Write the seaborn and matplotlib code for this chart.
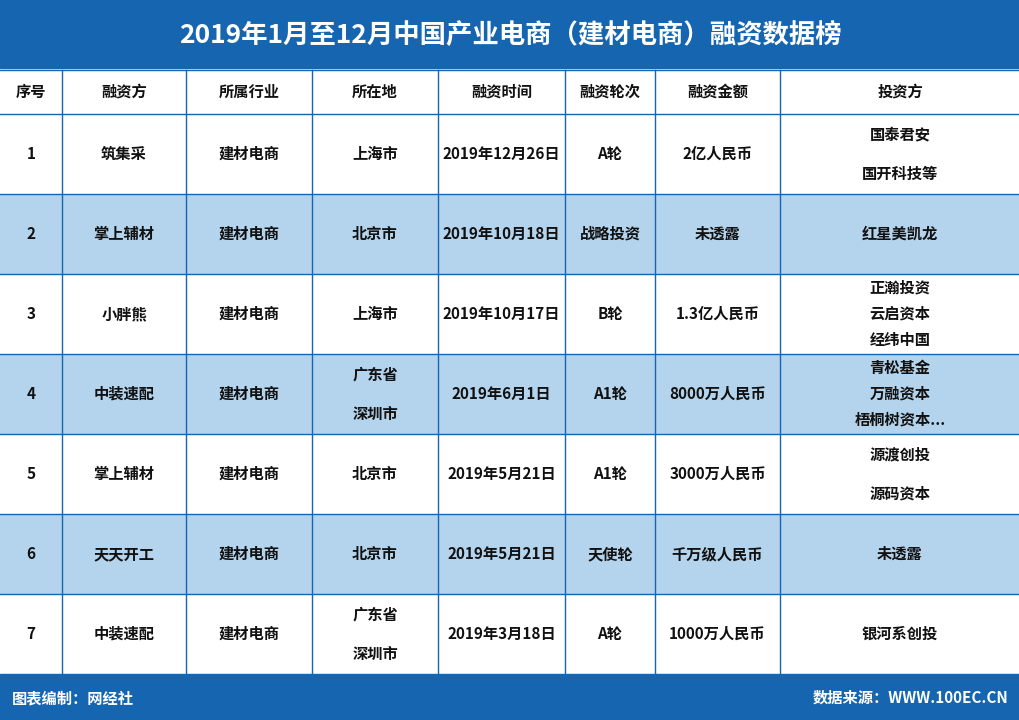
import matplotlib
matplotlib.use("Agg")
import matplotlib.pyplot as plt
import numpy as np
import seaborn as sns

plt.rcParams["font.family"] = "Noto Sans CJK SC"

TITLE = "2019年1月至12月中国产业电商（建材电商）融资数据榜"
FOOT_LEFT = "图表编制：网经社"
FOOT_RIGHT = "数据来源：WWW.100EC.CN"

headers = ["序号", "融资方", "所属行业", "所在地", "融资时间", "融资轮次", "融资金额", "投资方"]
seq = ["1", "2", "3", "4", "5", "6", "7"]
company = ["筑集采", "掌上辅材", "小胖熊", "中装速配", "掌上辅材", "天天开工", "中装速配"]
industry = ["建材电商"] * 7
location = ["上海市", "北京市", "上海市", "广东省\n深圳市", "北京市", "北京市", "广东省\n深圳市"]
date = ["2019年12月26日", "2019年10月18日", "2019年10月17日", "2019年6月1日",
        "2019年5月21日", "2019年5月21日", "2019年3月18日"]
round_ = ["A轮", "战略投资", "B轮", "A1轮", "A1轮", "天使轮", "A轮"]
amount = ["2亿人民币", "未透露", "1.3亿人民币", "8000万人民币", "3000万人民币", "千万级人民币", "1000万人民币"]
investor = ["国泰君安\n国开科技等", "红星美凯龙", "正瀚投资\n云启资本\n经纬中国",
            "青松基金\n万融资本\n梧桐树资本...", "源渡创投\n源码资本", "未透露", "银河系创投"]

BLUE = "#1565b0"
STRIPE = "#b4d3ec"
W, H = 1020, 720
col_x = [0, 62, 186, 312, 438, 565, 655, 780, 1020]
head_top, head_bot = 70, 114
row_h = 80
body_bot = head_bot + row_h * len(seq)

fig = plt.figure(figsize=(W / 100, H / 100), dpi=100)

# striped row backgrounds via seaborn heatmap
stripe_ax = fig.add_axes([0, 1 - body_bot / H, 1, (body_bot - head_bot) / H])
stripes = np.array([[i % 2] for i in range(len(seq))])
sns.heatmap(stripes, ax=stripe_ax, cmap=[ "white", STRIPE], cbar=False,
            xticklabels=False, yticklabels=False)
stripe_ax.set_axis_off()

ax = fig.add_axes([0, 0, 1, 1], facecolor="none")
ax.set_xlim(0, W)
ax.set_ylim(H, 0)
ax.set_axis_off()

# title and footer bars
ax.add_patch(plt.Rectangle((0, 0), W, 68, color=BLUE))
ax.text(W / 2, 36, TITLE, color="white", fontsize=19, fontweight="bold", ha="center", va="center")
ax.add_patch(plt.Rectangle((0, body_bot), W, H - body_bot, color=BLUE))
ax.text(12, 698, FOOT_LEFT, color="white", fontsize=11, fontweight="bold", va="center")
ax.text(W - 12, 698, FOOT_RIGHT, color="white", fontsize=11, fontweight="bold", va="center", ha="right")

# grid lines
for x in col_x[1:-1]:
    ax.plot([x, x], [head_top, body_bot], color=BLUE, lw=1)
for y in [head_top, head_bot] + [head_bot + row_h * i for i in range(1, len(seq))]:
    ax.plot([0, W], [y, y], color=BLUE, lw=1)

def cell(text, c, yc, bold=True):
    lines = text.split("\n")
    gap = 26 if len(lines) >= 3 else 39
    start = yc - gap * (len(lines) - 1) / 2
    xc = (col_x[c] + col_x[c + 1]) / 2
    for k, ln in enumerate(lines):
        ax.text(xc, start + k * gap, ln, ha="center", va="center", fontsize=11,
                fontweight="bold" if bold else "normal", color="#111111")

for c, h in enumerate(headers):
    cell(h, c, (head_top + head_bot) / 2)

cols = [seq, company, industry, location, date, round_, amount, investor]
for r in range(len(seq)):
    yc = head_bot + row_h * r + row_h / 2
    for c, data in enumerate(cols):
        cell(data[r], c, yc)

fig.savefig("out.png", dpi=100)
